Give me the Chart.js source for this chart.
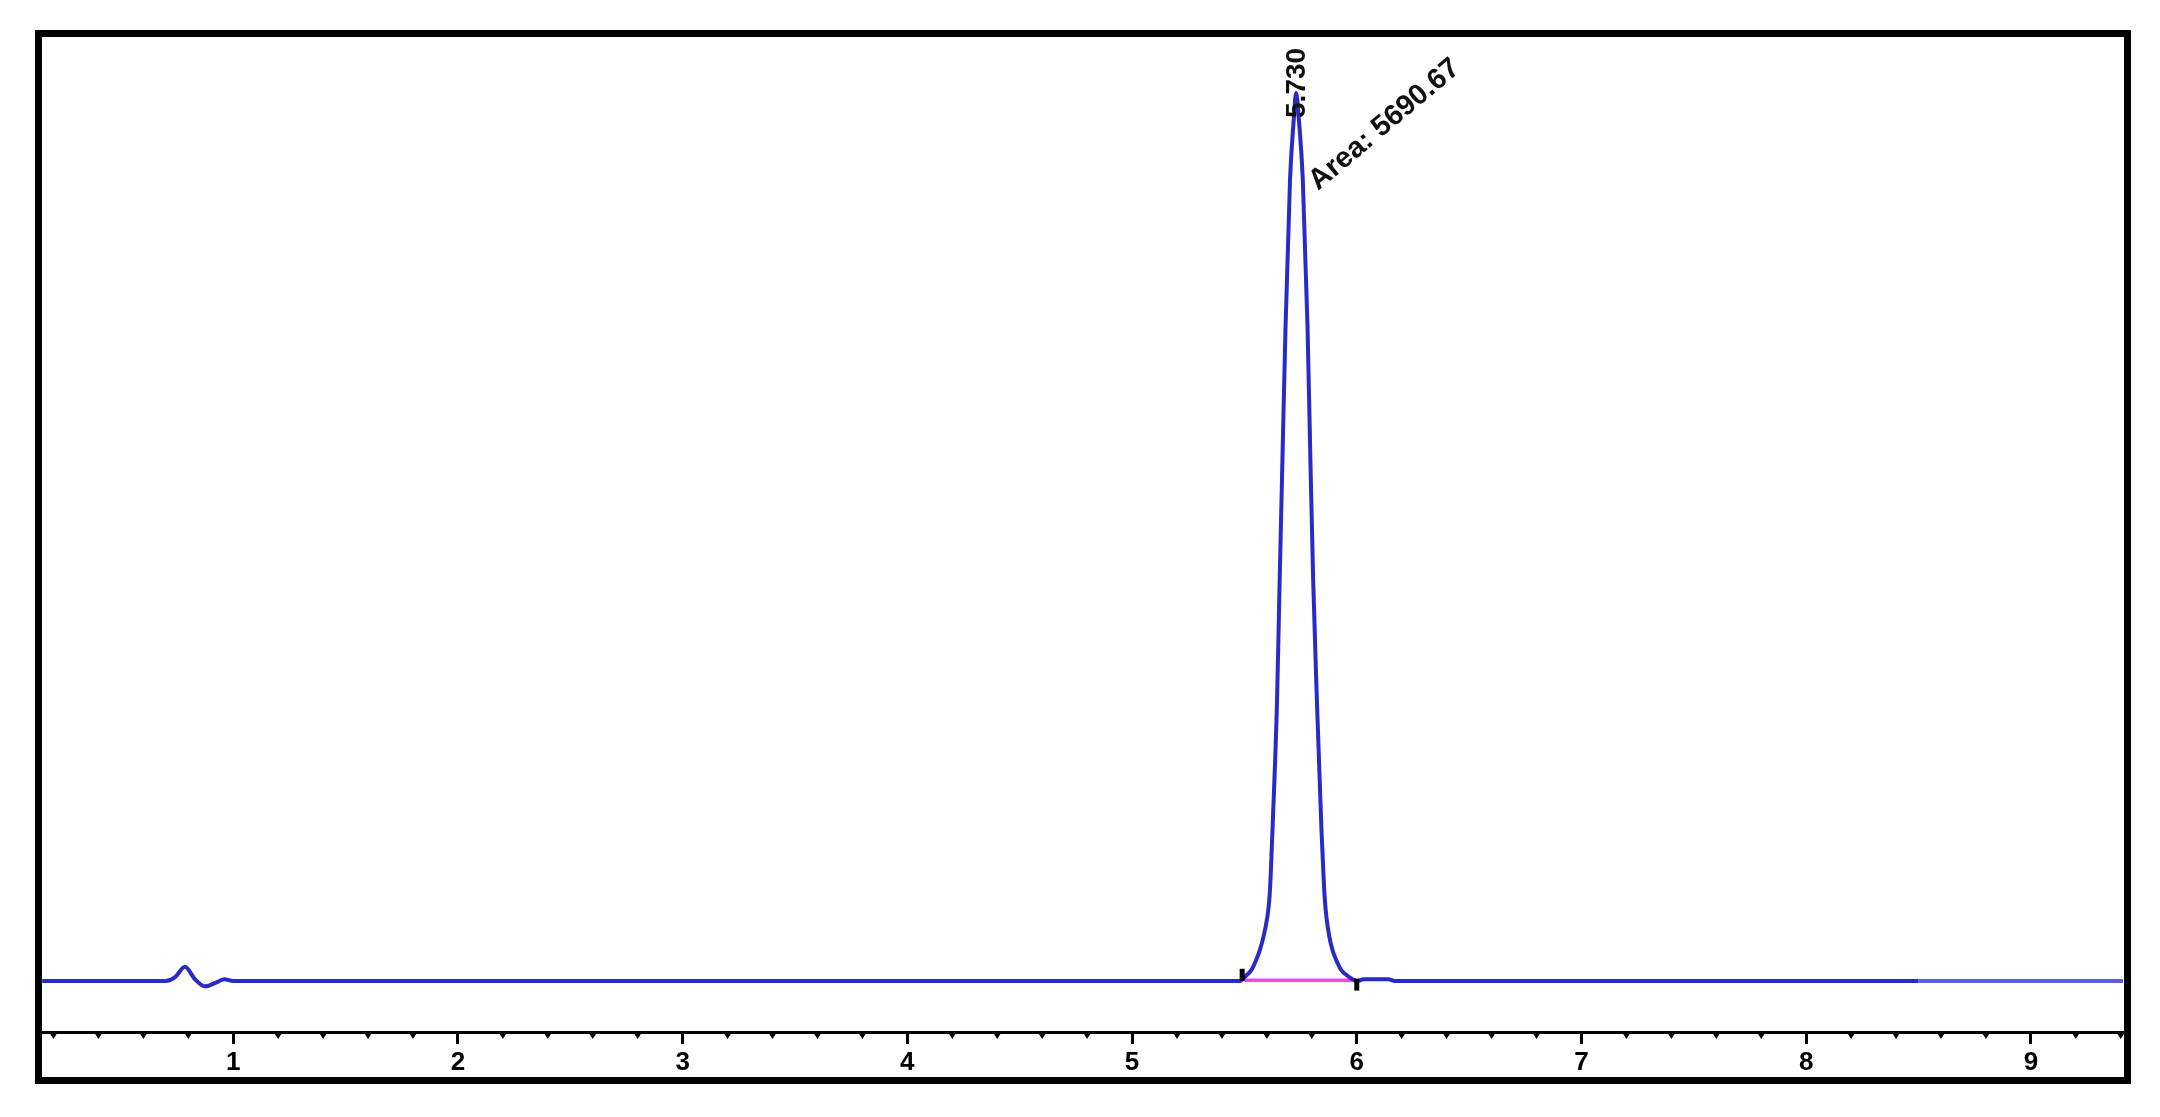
<!DOCTYPE html>
<html><head><meta charset="utf-8">
<script src="https://cdn.jsdelivr.net/npm/chart.js@4.4.1/dist/chart.umd.min.js"></script>
<style>
html,body{margin:0;padding:0;background:#fff;width:2160px;height:1117px;overflow:hidden}
#wrap{position:relative;width:2160px;height:1117px}
#frame{position:absolute;left:35px;top:30px;width:2096px;height:1054px;border:7px solid #000;box-sizing:border-box;pointer-events:none}
canvas{position:absolute;left:0;top:0}
</style></head><body>
<div id="wrap"><canvas id="c" width="2160" height="1117"></canvas><div id="frame"></div></div>
<script>
// Retention time (min) and detector signal
const retentionTimes = [0.15, 0.70, 0.74, 0.785, 0.83, 0.875, 0.93, 0.96, 1.00, 2.00, 3.00, 4.00, 5.00,
  5.480, 5.507, 5.530, 5.553, 5.569, 5.585, 5.602, 5.612, 5.618, 5.625, 5.645, 5.657, 5.670, 5.683, 5.703, 5.719,
  5.730,
  5.743, 5.760, 5.781, 5.793, 5.806, 5.823, 5.843, 5.851, 5.857, 5.865, 5.878, 5.892, 5.908, 5.932, 5.958, 6.005,
  6.03, 6.14, 6.17, 7.00, 8.00, 8.50, 9.00, 9.41];
const signal = [0, 0, 4, 16, 2, -6, -1, 2, 0, 0, 0, 0, 0,
  0, 6, 12, 24, 35, 50, 72, 95, 125, 170, 313, 452, 595, 736, 902, 968,
  1000,
  968, 902, 736, 595, 452, 313, 170, 125, 95, 72, 50, 35, 24, 12, 6, 0,
  2, 2, 0, 0, 0, 0, 0, 0];
const integrationBaselineRT = [5.50, 5.99];
const integrationBaselineSignal = [1, 1];
const integrationMarkRT = [5.49, 6.00];
const integrationMarkSignal = [7, -4];
const xTickValues = [1, 2, 3, 4, 5, 6, 7, 8, 9];
const xTickLabels = ['1', '2', '3', '4', '5', '6', '7', '8', '9'];
const peakRT = 5.730;
const peakHeight = 1000;
const peakLabel = '5.730';
const areaLabel = 'Area: 5690.67';

const toXY = (xs, ys) => xs.map((x, i) => ({x: x, y: ys[i]}));
const isMajor = v => xTickValues.some(t => Math.abs(t - v) < 1e-6);

const annotate = {
  id: 'annotate',
  afterDatasetsDraw(chart) {
    const ctx = chart.ctx, xs = chart.scales.x, ys = chart.scales.y;
    // minor tick marks
    ctx.save();
    ctx.fillStyle = '#000';
    const yb = chart.chartArea.bottom;
    xs.ticks.forEach(t => {
      if (isMajor(t.value)) return;
      const px = xs.getPixelForValue(t.value);
      ctx.beginPath();
      ctx.moveTo(px - 4.5, yb);
      ctx.lineTo(px + 4.5, yb);
      ctx.lineTo(px, yb + 7);
      ctx.closePath();
      ctx.fill();
    });
    ctx.restore();
    // peak labels
    const px = xs.getPixelForValue(peakRT), py = ys.getPixelForValue(peakHeight);
    ctx.save();
    ctx.fillStyle = '#111';
    ctx.font = 'bold 28px "Liberation Sans", Arial, sans-serif';
    ctx.translate(px + 1, py + 25);
    ctx.rotate(-Math.PI / 2);
    ctx.textAlign = 'left';
    ctx.textBaseline = 'middle';
    ctx.fillText(peakLabel, 0, 0);
    ctx.restore();
    ctx.save();
    ctx.fillStyle = '#111';
    ctx.font = 'bold 29px "Liberation Sans", Arial, sans-serif';
    ctx.translate(px + 22, py + 98);
    ctx.rotate(-40 * Math.PI / 180);
    ctx.textAlign = 'left';
    ctx.textBaseline = 'alphabetic';
    ctx.fillText(areaLabel, 0, 0);
    ctx.restore();
  }
};

new Chart(document.getElementById('c'), {
  type: 'line',
  data: {
    datasets: [
      {
        data: toXY(retentionTimes, signal),
        borderColor: '#2a2ac6',
        borderWidth: 4,
        pointRadius: 0,
        cubicInterpolationMode: 'monotone',
        segment: { borderColor: c => c.p0.parsed.x >= 8.5 ? '#5e5ed8' : '#2a2ac6' },
        order: 1
      },
      {
        data: toXY(integrationBaselineRT, integrationBaselineSignal),
        borderColor: '#ff44dd',
        borderWidth: 3.5,
        pointRadius: 0,
        order: 2
      },
      {
        data: toXY(integrationMarkRT, integrationMarkSignal),
        showLine: false,
        pointStyle: 'line',
        rotation: 90,
        pointRadius: 6,
        borderColor: '#000',
        pointBorderWidth: 5,
        borderWidth: 5,
        order: 0
      }
    ]
  },
  options: {
    responsive: false,
    animation: false,
    devicePixelRatio: 1,
    layout: { padding: { left: 42, right: 37, top: 37, bottom: 0 } },
    plugins: { legend: { display: false }, tooltip: { enabled: false } },
    scales: {
      x: {
        type: 'linear',
        min: 0.149,
        max: 9.41,
        afterFit: s => { s.height = 85; },
        border: { display: true, color: '#000', width: 3 },
        grid: {
          drawOnChartArea: false,
          drawTicks: true,
          tickLength: 12,
          tickWidth: 3,
          tickColor: c => (c.tick && isMajor(c.tick.value)) ? '#000' : 'rgba(0,0,0,0)'
        },
        ticks: {
          stepSize: 0.2,
          includeBounds: false,
          autoSkip: false,
          maxRotation: 0,
          padding: 3,
          color: '#000',
          font: { family: '"Liberation Sans", Arial, sans-serif', size: 26, weight: 'bold' },
          callback: v => {
            const i = xTickValues.findIndex(t => Math.abs(t - v) < 1e-6);
            return i >= 0 ? xTickLabels[i] : '';
          }
        }
      },
      y: {
        display: false,
        min: -57.4,
        max: 1063
      }
    }
  },
  plugins: [annotate]
});
</script>
</body></html>
